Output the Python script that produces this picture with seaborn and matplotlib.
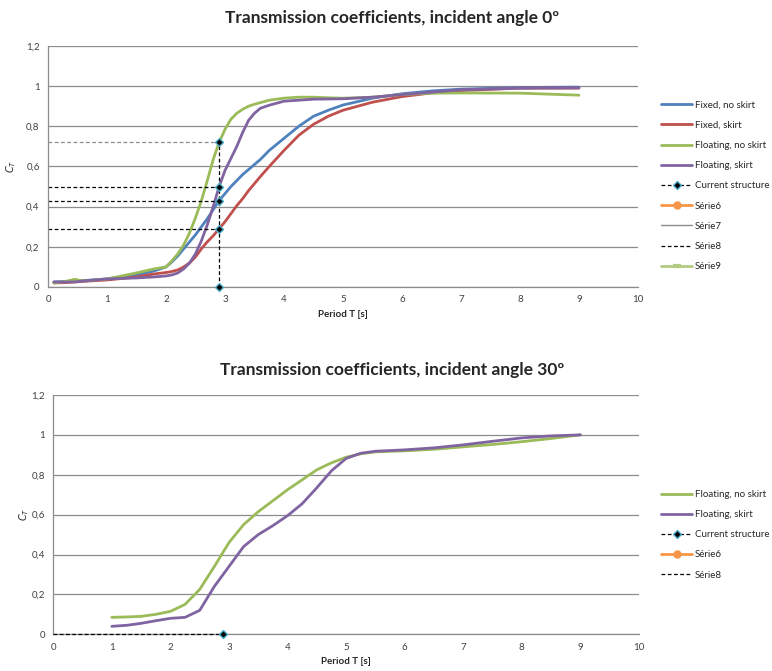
import numpy as np
import pandas as pd
import seaborn as sns
import matplotlib.pyplot as plt
from matplotlib.lines import Line2D

# ─── Data ────────────────────────────────────────────────────────────────────

# incident angle 0º
period_0 = [0.1, 0.3, 0.45, 0.6, 1.0, 1.5, 1.8, 2.0, 2.1, 2.2, 2.3, 2.4, 2.5, 2.6,
            2.7, 2.8, 2.9, 3.0, 3.1, 3.2, 3.3, 3.4, 3.5, 3.6, 3.75, 4.0, 4.25, 4.5,
            4.75, 5.0, 5.5, 6.0, 6.5, 7.0, 8.0, 9.0]
fixed_no_skirt = [0.025, 0.027, 0.03, 0.032, 0.04, 0.06, 0.08, 0.10, 0.125, 0.155, 0.19,
                  0.225, 0.26, 0.30, 0.34, 0.385, 0.43, 0.465, 0.50, 0.53, 0.56, 0.585,
                  0.61, 0.635, 0.68, 0.74, 0.80, 0.85, 0.88, 0.906, 0.94, 0.962, 0.976,
                  0.985, 0.993, 0.995]
fixed_skirt = [0.02, 0.022, 0.025, 0.028, 0.035, 0.05, 0.065, 0.072, 0.077, 0.085, 0.10,
               0.12, 0.15, 0.19, 0.225, 0.255, 0.29, 0.325, 0.365, 0.405, 0.44, 0.48,
               0.515, 0.55, 0.60, 0.68, 0.755, 0.81, 0.85, 0.88, 0.92, 0.948, 0.966,
               0.978, 0.99, 0.99]
floating_no_skirt = [0.02, 0.028, 0.038, 0.03, 0.04, 0.07, 0.09, 0.10, 0.13, 0.165, 0.21,
                     0.27, 0.345, 0.43, 0.53, 0.635, 0.72, 0.785, 0.835, 0.865, 0.885,
                     0.90, 0.91, 0.918, 0.93, 0.94, 0.945, 0.945, 0.942, 0.94, 0.945,
                     0.958, 0.965, 0.966, 0.965, 0.955]
floating_skirt = [0.025, 0.025, 0.025, 0.03, 0.04, 0.045, 0.05, 0.055, 0.06, 0.07, 0.09,
                  0.12, 0.165, 0.23, 0.31, 0.40, 0.50, 0.58, 0.64, 0.70, 0.77, 0.83,
                  0.865, 0.89, 0.905, 0.925, 0.93, 0.935, 0.936, 0.937, 0.945, 0.958,
                  0.97, 0.982, 0.99, 0.992]

current_T = 2.9
current_0 = [0.0, 0.29, 0.43, 0.50, 0.72]

# incident angle 30º
period_30 = [1.0, 1.25, 1.5, 1.75, 2.0, 2.25, 2.5, 2.75, 3.0, 3.25, 3.5, 3.75, 4.0,
             4.25, 4.5, 4.75, 5.0, 5.25, 5.5, 6.0, 6.5, 7.0, 7.5, 8.0, 8.5, 9.0]
floating_no_skirt_30 = [0.085, 0.087, 0.09, 0.10, 0.115, 0.15, 0.225, 0.34, 0.46, 0.55,
                        0.615, 0.67, 0.725, 0.775, 0.825, 0.86, 0.888, 0.905, 0.915,
                        0.92, 0.928, 0.94, 0.952, 0.966, 0.982, 1.0]
floating_skirt_30 = [0.04, 0.045, 0.055, 0.068, 0.08, 0.085, 0.12, 0.24, 0.34, 0.44,
                     0.50, 0.545, 0.595, 0.655, 0.735, 0.82, 0.882, 0.908, 0.918, 0.925,
                     0.935, 0.95, 0.968, 0.985, 0.995, 1.0]
current_30 = [0.0]

yticks = [0, 0.2, 0.4, 0.6, 0.8, 1.0, 1.2]
ytick_labels = ["0", "0,2", "0,4", "0,6", "0,8", "1", "1,2"]

colors = {
    "Fixed, no skirt": "#4F81BD",
    "Fixed, skirt": "#C0504D",
    "Floating, no skirt": "#9BBB59",
    "Floating, skirt": "#8064A2",
}

df0 = pd.concat([
    pd.DataFrame({"T": period_0, "Ct": fixed_no_skirt, "case": "Fixed, no skirt"}),
    pd.DataFrame({"T": period_0, "Ct": fixed_skirt, "case": "Fixed, skirt"}),
    pd.DataFrame({"T": period_0, "Ct": floating_no_skirt, "case": "Floating, no skirt"}),
    pd.DataFrame({"T": period_0, "Ct": floating_skirt, "case": "Floating, skirt"}),
])
df30 = pd.concat([
    pd.DataFrame({"T": period_30, "Ct": floating_no_skirt_30, "case": "Floating, no skirt"}),
    pd.DataFrame({"T": period_30, "Ct": floating_skirt_30, "case": "Floating, skirt"}),
])

# ─── Style ───────────────────────────────────────────────────────────────────

sns.set_theme(style="white")
plt.rcParams["font.family"] = ["Lato", "DejaVu Sans"]

fig = plt.figure(figsize=(7.72, 6.71), dpi=100)
ax1 = fig.add_axes([0.0622, 0.5723, 0.7642, 0.3592])
ax2 = fig.add_axes([0.069, 0.0547, 0.7587, 0.3566])


def style_axes(ax, ypad):
    ax.set_xlim(0, 10)
    ax.set_ylim(0, 1.2)
    ax.set_xticks(range(0, 11))
    ax.set_yticks(yticks)
    ax.set_yticklabels(ytick_labels)
    ax.tick_params(labelsize=7, colors="#404040", length=0, pad=6)
    ax.grid(axis="y", color="#8C8C8C", lw=0.9)
    ax.set_axisbelow(True)
    for s in ["top", "right"]:
        ax.spines[s].set_visible(False)
    for s in ["left", "bottom"]:
        ax.spines[s].set_color("#8C8C8C")
        ax.spines[s].set_linewidth(0.9)
    ax.set_xlabel("Period T [s]", fontsize=7, fontweight="bold", labelpad=4)
    ax.set_ylabel("$C_T$", fontsize=7, labelpad=ypad)


cs_kw = dict(color="black", ls=(0, (3, 2)), lw=0.9, marker="D", ms=4,
             mfc="black", mec="#4BACC6", mew=1.0)

# ─── Chart 1 : incident angle 0º ─────────────────────────────────────────────

sns.lineplot(data=df0, x="T", y="Ct", hue="case", palette=colors, lw=2,
             ax=ax1, legend=False, sort=False)
# guide lines to the current structure
for v in current_0[1:]:
    c = "#8C8C8C" if v == max(current_0) else "black"
    ax1.plot([0, current_T], [v, v], color=c, ls=(0, (3, 2)), lw=0.9)
ax1.plot([current_T] * len(current_0), current_0, clip_on=False, zorder=5, **cs_kw)
style_axes(ax1, 6)
fig.text(0.508, 0.973, "Transmission coefficients, incident angle 0º",
         ha="center", va="center", fontsize=12.5, fontweight="bold")

handles1 = [Line2D([], [], color=colors[k], lw=2) for k in colors]
handles1 += [
    Line2D([], [], **cs_kw),
    Line2D([], [], color="#F79646", lw=2, marker="o", ms=5),
    Line2D([], [], color="#8C8C8C", lw=1),
    Line2D([], [], color="black", ls=(0, (3, 2)), lw=0.9),
    Line2D([], [], color="#B3CC82", lw=2, marker="_", ms=6, mew=3),
]
labels1 = list(colors) + ["Current structure", "Série6", "Série7", "Série8", "Série9"]
fig.legend(handles1, labels1, loc="center left", bbox_to_anchor=(0.845, 0.723),
           frameon=False, fontsize=7, handlelength=3.2, labelspacing=1.15,
           handletextpad=0.3)

# ─── Chart 2 : incident angle 30º ────────────────────────────────────────────

sns.lineplot(data=df30, x="T", y="Ct", hue="case",
             palette={k: colors[k] for k in ["Floating, no skirt", "Floating, skirt"]},
             lw=2, ax=ax2, legend=False, sort=False)
ax2.plot([0, current_T], [current_30[0]] * 2, color="black", ls=(0, (3, 2)), lw=0.9,
         clip_on=False, zorder=5)
ax2.plot([current_T], current_30, clip_on=False, zorder=6, **cs_kw)
style_axes(ax2, 0)
fig.text(0.508, 0.4486, "Transmission coefficients, incident angle 30º",
         ha="center", va="center", fontsize=12.5, fontweight="bold")

handles2 = [Line2D([], [], color=colors[k], lw=2)
            for k in ["Floating, no skirt", "Floating, skirt"]]
handles2 += [
    Line2D([], [], **cs_kw),
    Line2D([], [], color="#F79646", lw=2, marker="o", ms=5),
    Line2D([], [], color="black", ls=(0, (3, 2)), lw=0.9),
]
labels2 = ["Floating, no skirt", "Floating, skirt", "Current structure", "Série6", "Série8"]
fig.legend(handles2, labels2, loc="center left", bbox_to_anchor=(0.845, 0.203),
           frameon=False, fontsize=7, handlelength=3.2, labelspacing=1.15,
           handletextpad=0.3)

fig.savefig("out.png", dpi=100)
